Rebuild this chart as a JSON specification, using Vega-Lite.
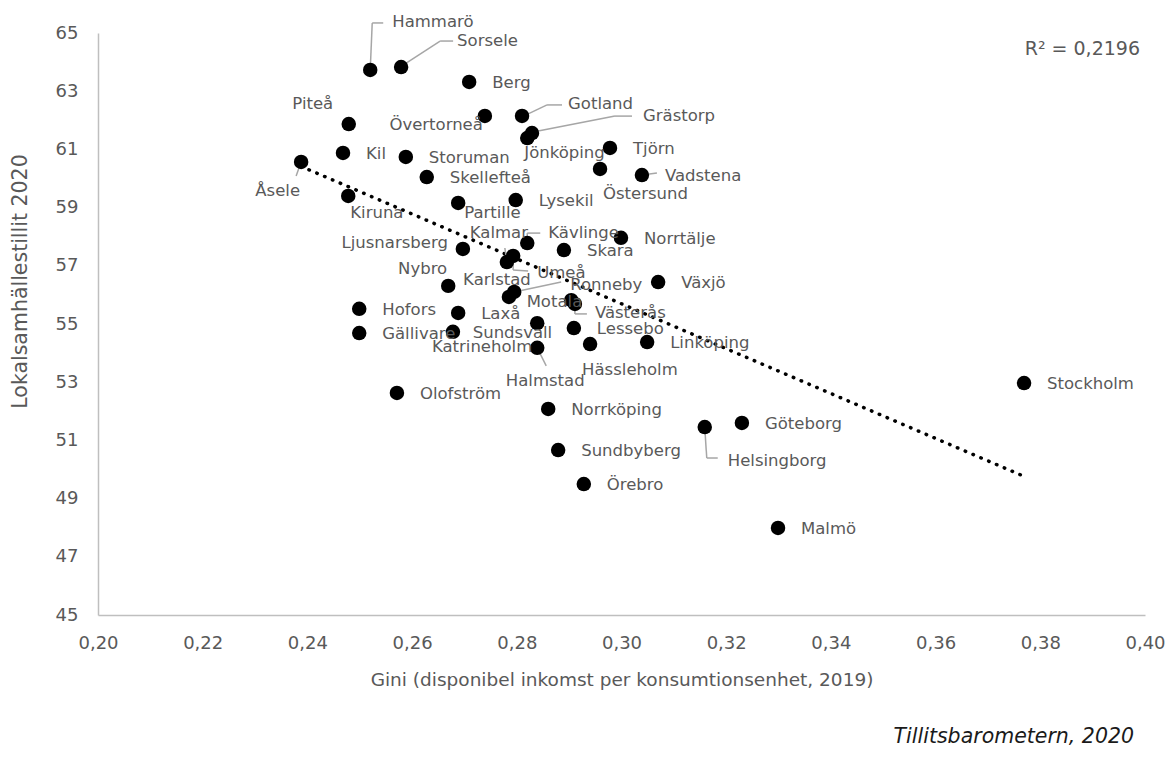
{
  "$schema": "https://vega.github.io/schema/vega-lite/v6.json",
  "autosize": "none",
  "width": 1047,
  "height": 582,
  "padding": {"left": 98, "top": 33, "right": 24, "bottom": 143},
  "background": "white",
  "config": {"view": {"stroke": null}, "font": "DejaVu Sans"},
  "title": {"text": "Tillitsbarometern, 2020", "orient": "bottom", "anchor": "end", "fontStyle": "italic", "fontWeight": "normal", "fontSize": 20.5, "color": "#1a1a1a", "font": "DejaVu Sans", "offset": 38, "dx": -31},
  "datasets": {
    "kommuner": [
      {"kommun": "Hammarö", "gini": 0.2520, "lok": 63.73},
      {"kommun": "Sorsele", "gini": 0.2579, "lok": 63.83},
      {"kommun": "Berg", "gini": 0.2709, "lok": 63.32},
      {"kommun": "Övertorneå", "gini": 0.2739, "lok": 62.15},
      {"kommun": "Gotland", "gini": 0.2810, "lok": 62.15},
      {"kommun": "Grästorp", "gini": 0.2829, "lok": 61.56},
      {"kommun": "Jönköping", "gini": 0.2820, "lok": 61.39},
      {"kommun": "Piteå", "gini": 0.2479, "lok": 61.87},
      {"kommun": "Kil", "gini": 0.2468, "lok": 60.88},
      {"kommun": "Storuman", "gini": 0.2588, "lok": 60.74},
      {"kommun": "Åsele", "gini": 0.2388, "lok": 60.57},
      {"kommun": "Skellefteå", "gini": 0.2628, "lok": 60.05},
      {"kommun": "Tjörn", "gini": 0.2978, "lok": 61.05},
      {"kommun": "Östersund", "gini": 0.2959, "lok": 60.33},
      {"kommun": "Vadstena", "gini": 0.3039, "lok": 60.12},
      {"kommun": "Kiruna", "gini": 0.2478, "lok": 59.40},
      {"kommun": "Partille", "gini": 0.2688, "lok": 59.16},
      {"kommun": "Lysekil", "gini": 0.2798, "lok": 59.26},
      {"kommun": "Ljusnarsberg", "gini": 0.2697, "lok": 57.58},
      {"kommun": "Kävlinge", "gini": 0.2820, "lok": 57.78},
      {"kommun": "Skara", "gini": 0.2890, "lok": 57.54},
      {"kommun": "Norrtälje", "gini": 0.2999, "lok": 57.96},
      {"kommun": "Kalmar", "gini": 0.2781, "lok": 57.13},
      {"kommun": "Umeå", "gini": 0.2793, "lok": 57.34},
      {"kommun": "Nybro", "gini": 0.2669, "lok": 56.31},
      {"kommun": "Karlstad", "gini": 0.2785, "lok": 55.93},
      {"kommun": "Ronneby", "gini": 0.2795, "lok": 56.10},
      {"kommun": "Växjö", "gini": 0.3070, "lok": 56.44},
      {"kommun": "Motala", "gini": 0.2904, "lok": 55.82},
      {"kommun": "Västerås", "gini": 0.2911, "lok": 55.69},
      {"kommun": "Hofors", "gini": 0.2499, "lok": 55.52},
      {"kommun": "Gällivare", "gini": 0.2499, "lok": 54.69},
      {"kommun": "Laxå", "gini": 0.2688, "lok": 55.38},
      {"kommun": "Katrineholm", "gini": 0.2678, "lok": 54.73},
      {"kommun": "Sundsvall", "gini": 0.2839, "lok": 55.03},
      {"kommun": "Halmstad", "gini": 0.2839, "lok": 54.18},
      {"kommun": "Lessebo", "gini": 0.2909, "lok": 54.86},
      {"kommun": "Hässleholm", "gini": 0.2940, "lok": 54.31},
      {"kommun": "Linköping", "gini": 0.3049, "lok": 54.38},
      {"kommun": "Olofström", "gini": 0.2571, "lok": 52.63},
      {"kommun": "Norrköping", "gini": 0.2860, "lok": 52.08},
      {"kommun": "Sundbyberg", "gini": 0.2879, "lok": 50.67},
      {"kommun": "Örebro", "gini": 0.2928, "lok": 49.50},
      {"kommun": "Helsingborg", "gini": 0.3159, "lok": 51.46},
      {"kommun": "Göteborg", "gini": 0.3230, "lok": 51.60},
      {"kommun": "Stockholm", "gini": 0.3769, "lok": 52.97},
      {"kommun": "Malmö", "gini": 0.3299, "lok": 47.99}
    ],
    "fit": [{"t": "R² = 0,2196", "gx": 0.4, "ly": 64.45}]
  },
  "data": {"name": "kommuner"},
  "encoding": {
    "x": {
      "field": "gini", "type": "quantitative",
      "scale": {"domain": [0.2, 0.4], "nice": false, "zero": false},
      "axis": {
        "values": [0.2, 0.22, 0.24, 0.26, 0.28, 0.3, 0.32, 0.34, 0.36, 0.38, 0.4],
        "labelExpr": "replace(format(datum.value, '.2f'), '.', ',')",
        "title": "Gini (disponibel inkomst per konsumtionsenhet, 2019)",
        "grid": false, "ticks": false, "labelFlush": false,
        "domainColor": "#bfbfbf", "domainWidth": 1.5,
        "labelPadding": 19, "labelFontSize": 18, "labelColor": "#595959", "labelFont": "DejaVu Sans",
        "titleFontSize": 18.5, "titleColor": "#595959", "titleFontWeight": "normal", "titleFont": "DejaVu Sans",
        "titleY": 64, "titleBaseline": "middle"
      }
    },
    "y": {
      "field": "lok", "type": "quantitative",
      "scale": {"domain": [45, 65], "nice": false, "zero": false},
      "axis": {
        "values": [45, 47, 49, 51, 53, 55, 57, 59, 61, 63, 65],
        "title": "Lokalsamhällestillit 2020",
        "grid": false, "ticks": false, "labelFlush": false,
        "domainColor": "#bfbfbf", "domainWidth": 1.5,
        "labelPadding": 20, "labelFontSize": 18, "labelColor": "#595959", "labelFont": "DejaVu Sans",
        "titleFontSize": 20.5, "titleColor": "#595959", "titleFontWeight": "normal", "titleFont": "DejaVu Sans",
        "titleX": -78, "titleY": 248, "titleBaseline": "middle"
      }
    }
  },
  "layer": [
    {
      "transform": [{"regression": "lok", "on": "gini"}],
      "mark": {"type": "line", "color": "black", "strokeWidth": 3.5, "strokeDash": [0.5, 8], "strokeCap": "round"},
      "encoding": {}
    },
    {"transform": [{"filter": "datum.kommun === 'Hammarö'"}], "mark": {"type": "rule", "color": "#a6a6a6", "strokeWidth": 1.5, "xOffset": 0, "yOffset": 0, "x2Offset": 2, "y2Offset": -47}, "encoding": {"x2": {"field": "gini"}, "y2": {"field": "lok"}}},
    {"transform": [{"filter": "datum.kommun === 'Hammarö'"}], "mark": {"type": "rule", "color": "#a6a6a6", "strokeWidth": 1.5, "xOffset": 2, "yOffset": -47, "x2Offset": 13, "y2Offset": -47}, "encoding": {"x2": {"field": "gini"}, "y2": {"field": "lok"}}},
    {"transform": [{"filter": "datum.kommun === 'Sorsele'"}], "mark": {"type": "rule", "color": "#a6a6a6", "strokeWidth": 1.5, "xOffset": 2, "yOffset": -2, "x2Offset": 39, "y2Offset": -26}, "encoding": {"x2": {"field": "gini"}, "y2": {"field": "lok"}}},
    {"transform": [{"filter": "datum.kommun === 'Sorsele'"}], "mark": {"type": "rule", "color": "#a6a6a6", "strokeWidth": 1.5, "xOffset": 39, "yOffset": -26, "x2Offset": 52, "y2Offset": -26}, "encoding": {"x2": {"field": "gini"}, "y2": {"field": "lok"}}},
    {"transform": [{"filter": "datum.kommun === 'Gotland'"}], "mark": {"type": "rule", "color": "#a6a6a6", "strokeWidth": 1.5, "xOffset": 2, "yOffset": 0, "x2Offset": 25, "y2Offset": -11}, "encoding": {"x2": {"field": "gini"}, "y2": {"field": "lok"}}},
    {"transform": [{"filter": "datum.kommun === 'Gotland'"}], "mark": {"type": "rule", "color": "#a6a6a6", "strokeWidth": 1.5, "xOffset": 25, "yOffset": -11, "x2Offset": 40, "y2Offset": -11}, "encoding": {"x2": {"field": "gini"}, "y2": {"field": "lok"}}},
    {"transform": [{"filter": "datum.kommun === 'Grästorp'"}], "mark": {"type": "rule", "color": "#a6a6a6", "strokeWidth": 1.5, "xOffset": 1, "yOffset": -1, "x2Offset": 83, "y2Offset": -17}, "encoding": {"x2": {"field": "gini"}, "y2": {"field": "lok"}}},
    {"transform": [{"filter": "datum.kommun === 'Grästorp'"}], "mark": {"type": "rule", "color": "#a6a6a6", "strokeWidth": 1.5, "xOffset": 83, "yOffset": -17, "x2Offset": 100, "y2Offset": -17}, "encoding": {"x2": {"field": "gini"}, "y2": {"field": "lok"}}},
    {"transform": [{"filter": "datum.kommun === 'Åsele'"}], "mark": {"type": "rule", "color": "#a6a6a6", "strokeWidth": 1.5, "xOffset": 0, "yOffset": 0, "x2Offset": -5, "y2Offset": 14}, "encoding": {"x2": {"field": "gini"}, "y2": {"field": "lok"}}},
    {"transform": [{"filter": "datum.kommun === 'Vadstena'"}], "mark": {"type": "rule", "color": "#a6a6a6", "strokeWidth": 1.5, "xOffset": 0, "yOffset": 0, "x2Offset": 15, "y2Offset": -2}, "encoding": {"x2": {"field": "gini"}, "y2": {"field": "lok"}}},
    {"transform": [{"filter": "datum.kommun === 'Kalmar'"}], "mark": {"type": "rule", "color": "#a6a6a6", "strokeWidth": 1.5, "xOffset": 0, "yOffset": 0, "x2Offset": -2, "y2Offset": -14}, "encoding": {"x2": {"field": "gini"}, "y2": {"field": "lok"}}},
    {"transform": [{"filter": "datum.kommun === 'Umeå'"}], "mark": {"type": "rule", "color": "#a6a6a6", "strokeWidth": 1.5, "xOffset": 0, "yOffset": 0, "x2Offset": 0, "y2Offset": 14}, "encoding": {"x2": {"field": "gini"}, "y2": {"field": "lok"}}},
    {"transform": [{"filter": "datum.kommun === 'Umeå'"}], "mark": {"type": "rule", "color": "#a6a6a6", "strokeWidth": 1.5, "xOffset": 0, "yOffset": 14, "x2Offset": 15, "y2Offset": 15}, "encoding": {"x2": {"field": "gini"}, "y2": {"field": "lok"}}},
    {"transform": [{"filter": "datum.kommun === 'Kävlinge'"}], "mark": {"type": "rule", "color": "#a6a6a6", "strokeWidth": 1.5, "xOffset": 0, "yOffset": 0, "x2Offset": 0, "y2Offset": -10}, "encoding": {"x2": {"field": "gini"}, "y2": {"field": "lok"}}},
    {"transform": [{"filter": "datum.kommun === 'Kävlinge'"}], "mark": {"type": "rule", "color": "#a6a6a6", "strokeWidth": 1.5, "xOffset": 0, "yOffset": -10, "x2Offset": 13, "y2Offset": -10}, "encoding": {"x2": {"field": "gini"}, "y2": {"field": "lok"}}},
    {"transform": [{"filter": "datum.kommun === 'Ronneby'"}], "mark": {"type": "rule", "color": "#a6a6a6", "strokeWidth": 1.5, "xOffset": 0, "yOffset": 0, "x2Offset": 47, "y2Offset": -10}, "encoding": {"x2": {"field": "gini"}, "y2": {"field": "lok"}}},
    {"transform": [{"filter": "datum.kommun === 'Västerås'"}], "mark": {"type": "rule", "color": "#a6a6a6", "strokeWidth": 1.5, "xOffset": 0, "yOffset": 0, "x2Offset": 0, "y2Offset": 10}, "encoding": {"x2": {"field": "gini"}, "y2": {"field": "lok"}}},
    {"transform": [{"filter": "datum.kommun === 'Västerås'"}], "mark": {"type": "rule", "color": "#a6a6a6", "strokeWidth": 1.5, "xOffset": 0, "yOffset": 10, "x2Offset": 12, "y2Offset": 10}, "encoding": {"x2": {"field": "gini"}, "y2": {"field": "lok"}}},
    {"transform": [{"filter": "datum.kommun === 'Halmstad'"}], "mark": {"type": "rule", "color": "#a6a6a6", "strokeWidth": 1.5, "xOffset": 0, "yOffset": 0, "x2Offset": 9, "y2Offset": 18}, "encoding": {"x2": {"field": "gini"}, "y2": {"field": "lok"}}},
    {"transform": [{"filter": "datum.kommun === 'Helsingborg'"}], "mark": {"type": "rule", "color": "#a6a6a6", "strokeWidth": 1.5, "xOffset": 0, "yOffset": 0, "x2Offset": 2, "y2Offset": 31}, "encoding": {"x2": {"field": "gini"}, "y2": {"field": "lok"}}},
    {"transform": [{"filter": "datum.kommun === 'Helsingborg'"}], "mark": {"type": "rule", "color": "#a6a6a6", "strokeWidth": 1.5, "xOffset": 2, "yOffset": 31, "x2Offset": 13, "y2Offset": 31}, "encoding": {"x2": {"field": "gini"}, "y2": {"field": "lok"}}},
    {
      "mark": {"type": "circle", "color": "black", "opacity": 1, "size": 210}
    },
    {"transform": [{"filter": {"field": "kommun", "oneOf": ["Berg", "Kil", "Storuman", "Skellefteå", "Tjörn", "Vadstena", "Lysekil", "Skara", "Norrtälje", "Växjö", "Hofors", "Gällivare", "Laxå", "Lessebo", "Linköping", "Olofström", "Norrköping", "Sundbyberg", "Örebro", "Göteborg", "Stockholm", "Malmö"]}}], "mark": {"type": "text", "align": "left", "baseline": "middle", "dx": 23, "dy": 1, "fontSize": 16.5, "color": "#595959"}, "encoding": {"text": {"field": "kommun"}}},
    {"transform": [{"filter": "datum.kommun === 'Hammarö'"}], "mark": {"type": "text", "align": "left", "baseline": "middle", "dx": 22, "dy": -48, "fontSize": 16.5, "color": "#595959"}, "encoding": {"text": {"field": "kommun"}}},
    {"transform": [{"filter": "datum.kommun === 'Sorsele'"}], "mark": {"type": "text", "align": "left", "baseline": "middle", "dx": 56, "dy": -26, "fontSize": 16.5, "color": "#595959"}, "encoding": {"text": {"field": "kommun"}}},
    {"transform": [{"filter": "datum.kommun === 'Övertorneå'"}], "mark": {"type": "text", "align": "right", "baseline": "middle", "dx": -2, "dy": 9, "fontSize": 16.5, "color": "#595959"}, "encoding": {"text": {"field": "kommun"}}},
    {"transform": [{"filter": "datum.kommun === 'Gotland'"}], "mark": {"type": "text", "align": "left", "baseline": "middle", "dx": 46, "dy": -12, "fontSize": 16.5, "color": "#595959"}, "encoding": {"text": {"field": "kommun"}}},
    {"transform": [{"filter": "datum.kommun === 'Grästorp'"}], "mark": {"type": "text", "align": "left", "baseline": "middle", "dx": 111, "dy": -17, "fontSize": 16.5, "color": "#595959"}, "encoding": {"text": {"field": "kommun"}}},
    {"transform": [{"filter": "datum.kommun === 'Jönköping'"}], "mark": {"type": "text", "align": "left", "baseline": "middle", "dx": -3, "dy": 15, "fontSize": 16.5, "color": "#595959"}, "encoding": {"text": {"field": "kommun"}}},
    {"transform": [{"filter": "datum.kommun === 'Piteå'"}], "mark": {"type": "text", "align": "center", "baseline": "middle", "dx": -36, "dy": -20, "fontSize": 16.5, "color": "#595959"}, "encoding": {"text": {"field": "kommun"}}},
    {"transform": [{"filter": "datum.kommun === 'Åsele'"}], "mark": {"type": "text", "align": "right", "baseline": "middle", "dx": -1, "dy": 29, "fontSize": 16.5, "color": "#595959"}, "encoding": {"text": {"field": "kommun"}}},
    {"transform": [{"filter": "datum.kommun === 'Östersund'"}], "mark": {"type": "text", "align": "left", "baseline": "middle", "dx": 3, "dy": 25, "fontSize": 16.5, "color": "#595959"}, "encoding": {"text": {"field": "kommun"}}},
    {"transform": [{"filter": "datum.kommun === 'Kiruna'"}], "mark": {"type": "text", "align": "left", "baseline": "middle", "dx": 2, "dy": 17, "fontSize": 16.5, "color": "#595959"}, "encoding": {"text": {"field": "kommun"}}},
    {"transform": [{"filter": "datum.kommun === 'Partille'"}], "mark": {"type": "text", "align": "left", "baseline": "middle", "dx": 6, "dy": 10, "fontSize": 16.5, "color": "#595959"}, "encoding": {"text": {"field": "kommun"}}},
    {"transform": [{"filter": "datum.kommun === 'Ljusnarsberg'"}], "mark": {"type": "text", "align": "right", "baseline": "middle", "dx": -15, "dy": -6, "fontSize": 16.5, "color": "#595959"}, "encoding": {"text": {"field": "kommun"}}},
    {"transform": [{"filter": "datum.kommun === 'Kalmar'"}], "mark": {"type": "text", "align": "center", "baseline": "middle", "dx": -8, "dy": -29, "fontSize": 16.5, "color": "#595959"}, "encoding": {"text": {"field": "kommun"}}},
    {"transform": [{"filter": "datum.kommun === 'Kävlinge'"}], "mark": {"type": "text", "align": "left", "baseline": "middle", "dx": 21, "dy": -10, "fontSize": 16.5, "color": "#595959"}, "encoding": {"text": {"field": "kommun"}}},
    {"transform": [{"filter": "datum.kommun === 'Umeå'"}], "mark": {"type": "text", "align": "left", "baseline": "middle", "dx": 24, "dy": 17, "fontSize": 16.5, "color": "#595959"}, "encoding": {"text": {"field": "kommun"}}},
    {"transform": [{"filter": "datum.kommun === 'Nybro'"}], "mark": {"type": "text", "align": "right", "baseline": "middle", "dx": -1, "dy": -17, "fontSize": 16.5, "color": "#595959"}, "encoding": {"text": {"field": "kommun"}}},
    {"transform": [{"filter": "datum.kommun === 'Karlstad'"}], "mark": {"type": "text", "align": "center", "baseline": "middle", "dx": -12, "dy": -17, "fontSize": 16.5, "color": "#595959"}, "encoding": {"text": {"field": "kommun"}}},
    {"transform": [{"filter": "datum.kommun === 'Ronneby'"}], "mark": {"type": "text", "align": "left", "baseline": "middle", "dx": 56, "dy": -7, "fontSize": 16.5, "color": "#595959"}, "encoding": {"text": {"field": "kommun"}}},
    {"transform": [{"filter": "datum.kommun === 'Motala'"}], "mark": {"type": "text", "align": "right", "baseline": "middle", "dx": 11, "dy": 2, "fontSize": 16.5, "color": "#595959"}, "encoding": {"text": {"field": "kommun"}}},
    {"transform": [{"filter": "datum.kommun === 'Västerås'"}], "mark": {"type": "text", "align": "left", "baseline": "middle", "dx": 20, "dy": 9, "fontSize": 16.5, "color": "#595959"}, "encoding": {"text": {"field": "kommun"}}},
    {"transform": [{"filter": "datum.kommun === 'Katrineholm'"}], "mark": {"type": "text", "align": "left", "baseline": "middle", "dx": -21, "dy": 15, "fontSize": 16.5, "color": "#595959"}, "encoding": {"text": {"field": "kommun"}}},
    {"transform": [{"filter": "datum.kommun === 'Sundsvall'"}], "mark": {"type": "text", "align": "right", "baseline": "middle", "dx": 15, "dy": 10, "fontSize": 16.5, "color": "#595959"}, "encoding": {"text": {"field": "kommun"}}},
    {"transform": [{"filter": "datum.kommun === 'Halmstad'"}], "mark": {"type": "text", "align": "center", "baseline": "middle", "dx": 8, "dy": 33, "fontSize": 16.5, "color": "#595959"}, "encoding": {"text": {"field": "kommun"}}},
    {"transform": [{"filter": "datum.kommun === 'Hässleholm'"}], "mark": {"type": "text", "align": "left", "baseline": "middle", "dx": -8, "dy": 26, "fontSize": 16.5, "color": "#595959"}, "encoding": {"text": {"field": "kommun"}}},
    {"transform": [{"filter": "datum.kommun === 'Helsingborg'"}], "mark": {"type": "text", "align": "left", "baseline": "middle", "dx": 23, "dy": 34, "fontSize": 16.5, "color": "#595959"}, "encoding": {"text": {"field": "kommun"}}},
    {
      "data": {"name": "fit"},
      "mark": {"type": "text", "align": "right", "baseline": "middle", "dx": -5, "fontSize": 19, "color": "#595959"},
      "encoding": {"x": {"field": "gx", "type": "quantitative"}, "y": {"field": "ly", "type": "quantitative"}, "text": {"field": "t"}}
    }
  ]
}
